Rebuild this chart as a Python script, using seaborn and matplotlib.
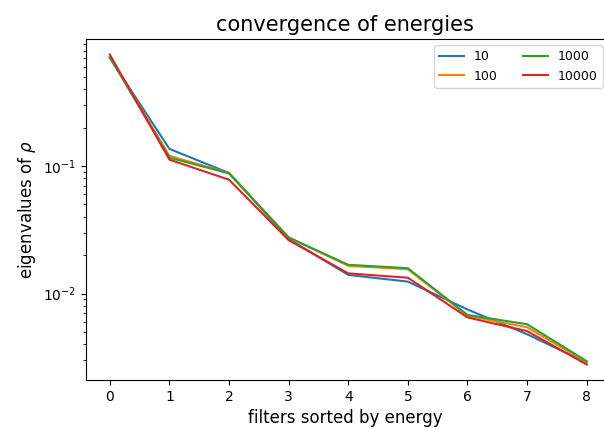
import numpy as np
import pandas as pd
import matplotlib
matplotlib.use("Agg")
import matplotlib.pyplot as plt
import seaborn as sns

# eigenvalues per filter index, one list per number of samples
filters = [0, 1, 2, 3, 4, 5, 6, 7, 8]
n10 = [0.700, 0.136, 0.0880, 0.0268, 0.0140, 0.0124, 0.0075, 0.00480, 0.00287]
n100 = [0.720, 0.120, 0.0880, 0.0275, 0.0165, 0.0155, 0.0067, 0.00545, 0.00290]
n1000 = [0.710, 0.116, 0.0875, 0.0275, 0.0168, 0.0158, 0.0068, 0.00575, 0.00295]
n10000 = [0.747, 0.112, 0.0780, 0.0262, 0.0144, 0.0133, 0.0065, 0.00508, 0.00278]

series = {"10": n10, "100": n100, "1000": n1000, "10000": n10000}
colors = ["#1f77b4", "#ff7f0e", "#2ca02c", "#d62728"]

df = pd.concat([pd.DataFrame({"filter": filters, "eig": v, "n": k})
                for k, v in series.items()], ignore_index=True)

plt.rcParams['font.family'] = ['DejaVu Sans']

fig = plt.figure(figsize=(6.04, 4.29), dpi=100)
# the original is cropped on the right, so the axes stop at the figure edge
ax = fig.add_axes([86 / 604, 49 / 429, 518 / 604, 341 / 429])
ax.patch.set_visible(False)

for (name, vals), c in zip(series.items(), colors):
    sub = df[df["n"] == name]
    sns.lineplot(data=sub, x="filter", y="eig", color=c, label=name, ax=ax, linewidth=1.5)

ax.set_yscale("log")
ax.set_xticks(filters)
ax.set_xlim(-0.4, 8.29)
ax.tick_params(axis="both", labelsize=10)
ax.tick_params(axis="y", which="both", right=False)
ax.set_xlabel("filters sorted by energy", fontsize=12)
ax.set_ylabel(r"eigenvalues of $\rho$", fontsize=12)
ax.set_title("convergence of energies", fontsize=15)
ax.legend(ncol=2, fontsize=9, loc="upper right",
          bbox_to_anchor=(609 / 604, 390 / 429), bbox_transform=fig.transFigure)
ax.spines["right"].set_visible(False)

fig.savefig("out.png", dpi=100)
